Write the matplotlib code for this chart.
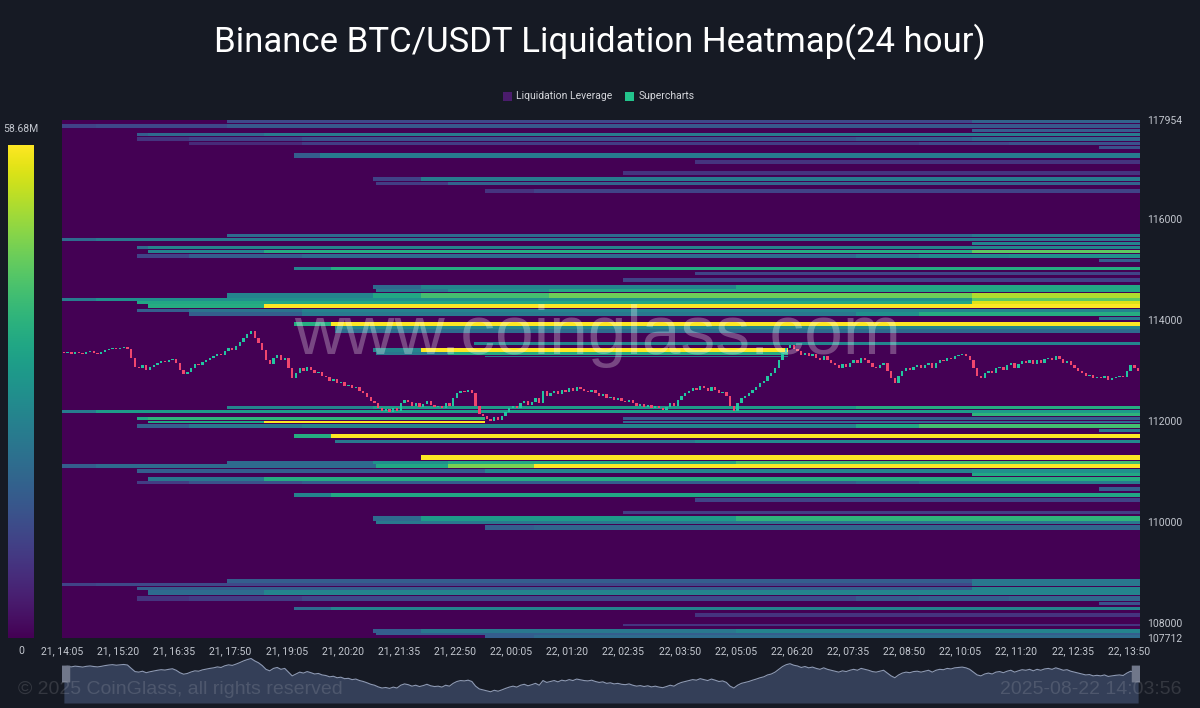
import numpy as np
import matplotlib
matplotlib.use('Agg')
import matplotlib.pyplot as plt
from matplotlib.patches import Rectangle, FancyBboxPatch

# chart text and axis values
title = 'Binance BTC/USDT Liquidation Heatmap(24 hour)'
p_min, p_max = 107712, 117954
max_liq = '58.68M'
y_ticks = [117954, 116000, 114000, 112000, 110000, 108000, 107712]
x_labels = ['21, 14:05', '21, 15:20', '21, 16:35', '21, 17:50', '21, 19:05',
            '21, 20:20', '21, 21:35', '21, 22:50', '22, 00:05', '22, 01:20',
            '22, 02:35', '22, 03:50', '22, 05:05', '22, 06:20', '22, 07:35',
            '22, 08:50', '22, 10:05', '22, 11:20', '22, 12:35', '22, 13:50']
n_cols = 288  # 5 minute columns over 24h

# liquidation bands: (price low, price high, [(start column, share of max), ...])
# a share of 0 means the band was wiped out by price
bands = [
    # 117k group
    (117900, 117954, [(44, .22), (243, .32)]),
    (117800, 117880, [(0, .2), (9, .22), (44, .28)]),
    (117720, 117780, [(243, .3)]),
    (117640, 117700, [(20, .3), (23, .35), (54, .42)]),
    (117540, 117620, [(20, .15), (34, .2), (64, .25), (212, .3), (243, .35)]),
    (117460, 117520, [(34, .12), (64, .18), (229, .22), (253, .25)]),
    (117370, 117430, [(277, .25)]),
    (117210, 117290, [(62, .3), (69, .42)]),
    (117090, 117170, [(169, .15)]),
    (116870, 116950, [(150, .15)]),
    (116750, 116830, [(83, .2), (96, .42)]),
    (116670, 116730, [(84, .18), (103, .32)]),
    (116520, 116590, [(113, .15), (126, .2)]),
    # 115k group
    (115640, 115700, [(44, .35), (243, .4)]),
    (115560, 115620, [(0, .35), (9, .4)]),
    (115490, 115540, [(243, .45)]),
    (115410, 115470, [(20, .35), (23, .45)]),
    (115330, 115390, [(23, .45), (54, .62), (243, .75)]),
    (115230, 115310, [(20, .2), (34, .3), (64, .35), (212, .42), (229, .48), (253, .5)]),
    (115150, 115210, [(277, .3)]),
    (114990, 115050, [(62, .45), (72, .62)]),
    (114890, 114950, [(169, .2)]),
    (114750, 114830, [(150, .2)]),
    (114610, 114690, [(83, .35), (96, .45), (180, .6)]),
    (114560, 114610, [(84, .4), (103, .5), (130, .6)]),
    # 114k group
    (114440, 114540, [(44, .45), (83, .6), (96, .7), (130, .78), (243, .88)]),
    (114380, 114430, [(0, .42), (9, .5), (243, .75)]),
    (114320, 114370, [(20, .6), (243, .95)]),
    (114240, 114310, [(23, .62), (54, 1.0)]),
    (114160, 114220, [(20, .3), (34, .38), (64, .45)]),
    (114080, 114150, [(34, .3), (64, .4), (212, .5), (229, .62)]),
    (114000, 114060, [(277, .4)]),
    (113880, 113960, [(62, .62), (72, 1.0)]),
    (113820, 113870, [(73, .45)]),
    (113760, 113810, [(73, .35)]),
    (113510, 113570, [(110, .45)]),
    (113380, 113460, [(83, .45), (96, 1.0), (194, 0)]),
    (113310, 113370, [(84, .4), (103, .62), (194, 0)]),
    (113270, 113300, [(113, .4), (194, 0)]),
    # 112k group
    (112240, 112300, [(44, .45), (83, .55), (212, .62)]),
    (112160, 112220, [(0, .42), (9, .55)]),
    (112090, 112150, [(243, .65)]),
    (112030, 112080, [(20, .6), (23, .65), (113, 0), (150, .3)]),
    (111970, 112020, [(23, .6), (54, 1.0), (113, 0), (150, .35)]),
    (111870, 111960, [(20, .3), (34, .4), (64, .45), (212, .6), (229, .7)]),
    (111790, 111860, [(277, .4)]),
    (111670, 111760, [(62, .62), (72, 1.0)]),
    (111570, 111640, [(73, .4), (169, .48)]),
    (111230, 111330, [(96, 1.0)]),
    (111150, 111210, [(44, .35), (83, .5), (103, .6), (180, .7)]),
    (111070, 111150, [(0, .3), (9, .35), (84, .6), (103, .8), (126, 1.0)]),
    # 110k group
    (110970, 111050, [(20, .3), (113, .45), (243, .5)]),
    (110910, 110970, [(243, .6)]),
    (110810, 110890, [(23, .4), (54, .62)]),
    (110750, 110810, [(20, .18), (34, .25), (64, .3), (212, .35), (229, .42)]),
    (110610, 110690, [(277, .3)]),
    (110500, 110570, [(62, .45), (72, .6)]),
    (110400, 110470, [(169, .2)]),
    (110180, 110240, [(150, .18)]),
    (110040, 110140, [(83, .35), (96, .55), (180, .65)]),
    (109980, 110040, [(84, .4)]),
    (109860, 109960, [(113, .3), (126, .33)]),
    # 108k group
    (108790, 108870, [(44, .3), (243, .4)]),
    (108730, 108790, [(0, .2), (9, .22), (243, .4)]),
    (108650, 108710, [(20, .3), (243, .45)]),
    (108580, 108650, [(23, .35), (54, .45)]),
    (108460, 108560, [(20, .15), (34, .18), (64, .22), (212, .28), (229, .3), (253, .33)]),
    (108380, 108440, [(277, .25)]),
    (108280, 108340, [(62, .35), (72, .45)]),
    (108140, 108220, [(169, .15)]),
    (107960, 108000, [(150, .15)]),
    (107820, 107900, [(83, .3), (96, .4), (180, .45)]),
    (107770, 107820, [(84, .3)]),
    (107712, 107770, [(113, .3), (126, .35)]),
]

# 5 minute closes, 21 14:05 -> 22 14:00
first_open = 113350
closes = [
    113340, 113360, 113330, 113370, 113350, 113320, 113360, 113380, 113350, 113330,
    113360, 113400, 113430, 113450, 113420, 113440, 113460, 113430, 113250, 113080,
    113050, 113100, 113020, 113070, 113110, 113150, 113180, 113160, 113200, 113230,
    113150, 113020, 112940, 112980, 113060, 113120, 113100, 113170, 113210, 113250,
    113280, 113330, 113300, 113390, 113440, 113410, 113480, 113560, 113650, 113720,
    113780, 113650, 113550, 113400, 113200, 113120, 113250, 113300, 113200, 113250,
    113050, 112850, 112950, 113050, 113000, 113080, 113020, 112950, 112980, 112900,
    112870, 112800, 112830, 112750, 112780, 112700, 112720, 112650, 112680, 112600,
    112550, 112480, 112400, 112350, 112260, 112200, 112230, 112180, 112250, 112200,
    112350, 112420, 112380, 112300, 112350, 112280, 112330, 112400, 112320, 112280,
    112300, 112250, 112350, 112300, 112450, 112550, 112600, 112580, 112620, 112550,
    112300, 112150, 112100, 112050, 112000, 112080, 112030, 112100, 112180, 112250,
    112300, 112250, 112350, 112400, 112320, 112380, 112450, 112350, 112600, 112500,
    112550, 112600, 112530, 112620, 112580, 112650, 112600, 112680, 112640, 112600,
    112580, 112620, 112550, 112500, 112530, 112450, 112480, 112420, 112450, 112400,
    112380, 112420, 112350, 112300, 112330, 112280, 112320, 112260, 112300, 112250,
    112220, 112280, 112350, 112300, 112420, 112500, 112550, 112600, 112650, 112620,
    112700, 112650, 112600, 112680, 112620, 112550, 112580, 112500, 112300, 112200,
    112350, 112450, 112500, 112550, 112620, 112680, 112750, 112800, 112900, 112950,
    113050, 113200, 113350, 113450, 113500, 113420, 113380, 113300, 113350, 113280,
    113320, 113250, 113200, 113280, 113200, 113150, 113100, 113050, 113120, 113080,
    113150, 113200, 113150, 113250, 113200, 113150, 113080, 113050, 113100, 113150,
    113000, 112850, 112750, 112900, 113000, 113050, 113020, 113080, 113100, 113050,
    113100, 113150, 113050, 113150, 113200, 113180, 113250, 113220, 113280, 113300,
    113320, 113280, 113200, 113050, 112900, 112850, 112950, 113000, 112950, 113050,
    113080, 113020, 113100, 113150, 113050, 113120, 113180, 113150, 113200, 113120,
    113200, 113150, 113220, 113250, 113200, 113280, 113220, 113150, 113180, 113100,
    113050, 113000, 112950, 112900, 112920, 112850, 112880, 112850, 112900, 112820,
    112850, 112880, 112900, 112870, 113000, 113100, 113050, 113000,
]

bg = '#161a24'
txt = '#c3c7cf'

# build the heatmap grid
step = 20
centers = np.arange(p_min, p_max, step) + step / 2
grid = np.zeros((len(centers), n_cols))
for lo, hi, segs in bands:
    rows = (centers >= lo) & (centers < hi)
    vals = np.zeros(n_cols)
    for c, v in segs:
        vals[c:] = v
    grid[rows] = np.maximum(grid[rows], vals)

fig = plt.figure(figsize=(12, 7.08), dpi=100, facecolor=bg)
plt.rcParams['font.family'] = ['Roboto', 'DejaVu Sans']

ax = fig.add_axes([62 / 1200, 70 / 708, 1078 / 1200, 518 / 708])
ax.set_facecolor(bg)
ax.imshow(grid, origin='lower', aspect='auto', cmap='viridis', vmin=0, vmax=1,
          interpolation='nearest',
          extent=[0, n_cols, p_min, p_min + len(centers) * step])

# candles
opens = [first_open] + closes[:-1]
xs = np.arange(n_cols) + 0.5
o = np.array(opens)
c = np.array(closes)
cols = np.where(c >= o, '#22c5a0', '#f0466e')
heights = np.where(np.abs(c - o) < 15, 15, c - o)
ax.bar(xs, heights, bottom=o, width=0.62, color=cols, zorder=3)

ax.text(0.497, 0.583, 'www.coinglass.com', transform=ax.transAxes,
        ha='center', va='center', fontsize=50, color='white', alpha=0.28,
        family=['Liberation Sans', 'DejaVu Sans'], zorder=5)

ax.set_xlim(0, n_cols)
ax.set_ylim(p_min, p_max)
ax.yaxis.tick_right()
ax.set_yticks(y_ticks)
ax.set_yticklabels([str(t) for t in y_ticks])
ax.set_xticks(np.arange(len(x_labels)) * 15)
ax.set_xticklabels(x_labels)
ax.tick_params(axis='both', length=0, colors=txt, labelsize=7.5)
ax.tick_params(axis='y', pad=5)
ax.tick_params(axis='x', pad=6)
for s in ax.spines.values():
    s.set_visible(False)

# colour scale on the left
cax = fig.add_axes([8 / 1200, 70 / 708, 26 / 1200, 493 / 708])
cax.imshow(np.linspace(0, 1, 256)[:, None], origin='lower', aspect='auto', cmap='viridis')
cax.axis('off')
fig.text(21 / 1200, 1 - 129 / 708, max_liq, ha='center', va='center', color=txt, fontsize=7.5)
fig.text(21 / 1200, 1 - 651 / 708, '0', ha='center', va='center', color=txt, fontsize=7.5)

# navigator
nav = fig.add_axes([62 / 1200, 5 / 708, 1078 / 1200, 49 / 708])
nav.set_facecolor('#1b2130')
nav.fill_between(xs, closes, 111400, color='#343f58', lw=0)
nav.plot(xs, closes, color='#8d99b3', lw=0.8)
nav.set_xlim(0, n_cols)
nav.set_ylim(111400, 114020)
nav.axis('off')
for hx in (0.8, n_cols - 0.8):
    nav.add_patch(FancyBboxPatch((hx - 1.2, 112500), 2.4, 900,
                                 boxstyle='round,pad=0.2', fc='#70778a', ec='none', zorder=4))

# title and legend
fig.text(0.5, 1 - 42 / 708, title, ha='center', va='center', color='white', fontsize=25)
fig.add_artist(Rectangle((503 / 1200, 1 - 101 / 708), 9 / 1200, 9 / 708,
                         fc='#4a1c6c', ec='none', transform=fig.transFigure))
fig.text(516 / 1200, 1 - 96 / 708, 'Liquidation Leverage', va='center', color='#d4d6db', fontsize=7.5)
fig.add_artist(Rectangle((625 / 1200, 1 - 101 / 708), 9 / 1200, 9 / 708,
                         fc='#23c48c', ec='none', transform=fig.transFigure))
fig.text(639 / 1200, 1 - 96 / 708, 'Supercharts', va='center', color='#d4d6db', fontsize=7.5)

# footer
fig.text(18 / 1200, 1 - 690 / 708, '\u00a9 2025 CoinGlass, all rights reserved', va='center',
         color='white', alpha=0.13, fontsize=14, family=['Liberation Sans', 'DejaVu Sans'])
fig.text(1182 / 1200, 1 - 690 / 708, '2025-08-22 14:03:56', ha='right', va='center',
         color='white', alpha=0.13, fontsize=14, family=['Liberation Sans', 'DejaVu Sans'])

fig.savefig('out.png', dpi=100, facecolor=bg)
